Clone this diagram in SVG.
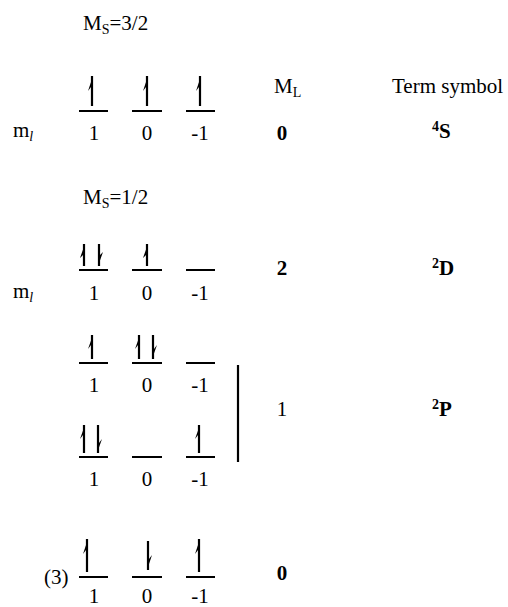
<svg xmlns="http://www.w3.org/2000/svg" width="508" height="607" viewBox="0 0 508 607">
<style>
text{font-family:"Liberation Serif","Times New Roman",serif;font-size:21px;fill:#000}
.c{text-anchor:middle}
.b{font-weight:bold}
.lv{stroke:#000;stroke-width:2}
.sh{stroke:#000;stroke-width:2.2}
.bar{fill:#000}
</style>
<rect width="508" height="607" fill="#fff"/>
<g id="headers">
<text x="83" y="30">M<tspan font-size="14" dy="4">S</tspan><tspan dy="-4">=3/2</tspan></text>
<text x="274" y="93">M<tspan font-size="14" dy="4">L</tspan></text>
<text x="392" y="93">Term symbol</text>
<text x="83" y="204">M<tspan font-size="14" dy="4">S</tspan><tspan dy="-4">=1/2</tspan></text>
</g>
<g id="row1">
<text x="13" y="137">m<tspan font-size="14" font-style="italic" dy="4">l</tspan></text>
<path class="lv" d="M79 111H108M132 111H162M186 111H215"/>
<path class="sh" d="M92 106V76M147 106V76M200 106V76"/>
<path class="bar" d="M93 76L88 91L91 87ZM148 76L143 91L146 87ZM201 76L196 91L199 87Z"/>
<text class="c" x="94" y="140">1</text><text class="c" x="147" y="140">0</text><text class="c" x="200" y="140">-1</text>
<text class="c b" x="282" y="140">0</text>
<text x="432" y="138" class="b"><tspan font-size="14" dy="-7">4</tspan><tspan dy="7">S</tspan></text>
</g>
<g id="row2">
<text x="13" y="298">m<tspan font-size="14" font-style="italic" dy="4">l</tspan></text>
<path class="lv" d="M79 270H108M132 270H162M186 270H215"/>
<path class="sh" d="M84 266V244M99 266V244M147 266V244"/>
<path class="bar" d="M85 244L80 258L83 255ZM98 266L103 252L100 255ZM148 244L143 258L146 255Z"/>
<text class="c" x="94" y="300">1</text><text class="c" x="147" y="300">0</text><text class="c" x="200" y="300">-1</text>
<text class="c b" x="282" y="275">2</text>
<text x="432" y="275" class="b"><tspan font-size="14" dy="-7">2</tspan><tspan dy="7">D</tspan></text>
</g>
<g id="row3">
<path class="lv" d="M79 363H108M132 363H162M186 363H215"/>
<path class="sh" d="M92 359V335M139 359V335M153 359V335"/>
<path class="bar" d="M93 335L88 349L91 345ZM140 335L135 349L138 345ZM152 359L157 345L154 349Z"/>
<text class="c" x="94" y="392">1</text><text class="c" x="147" y="392">0</text><text class="c" x="200" y="392">-1</text>
</g>
<g id="row4">
<path class="lv" d="M79 457H108M132 457H162M186 457H215"/>
<path class="sh" d="M84 453V425M98 453V425M199 453V425"/>
<path class="bar" d="M85 425L80 439L83 435ZM97 453L102 439L99 443ZM200 425L195 439L198 435Z"/>
<text class="c" x="94" y="486">1</text><text class="c" x="147" y="486">0</text><text class="c" x="200" y="486">-1</text>
</g>
<g id="bracket">
<path class="sh" d="M238 365V462"/>
<text class="c" x="282" y="416">1</text>
<text x="432" y="416" class="b"><tspan font-size="14" dy="-7">2</tspan><tspan dy="7">P</tspan></text>
</g>
<g id="row5">
<text x="44" y="584">(3)</text>
<path class="lv" d="M79 577H108M132 577H162M186 577H215"/>
<path class="sh" d="M87 572V539M148 541V570M199 572V539"/>
<path class="bar" d="M88 539L83 554L86 550ZM147 570L152 555L149 559ZM200 539L195 554L198 550Z"/>
<text class="c" x="94" y="603">1</text><text class="c" x="147" y="603">0</text><text class="c" x="200" y="603">-1</text>
<text class="c b" x="282" y="580">0</text>
</g>
</svg>
